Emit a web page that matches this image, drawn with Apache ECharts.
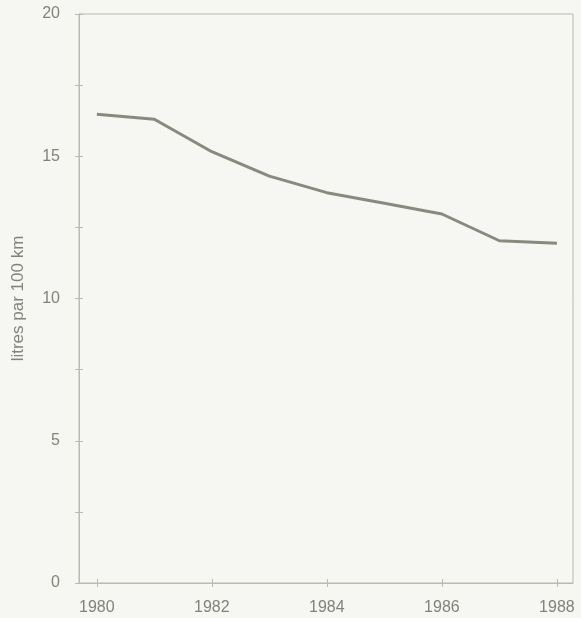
<!DOCTYPE html>
<html><head><meta charset="utf-8">
<script src="https://cdn.jsdelivr.net/npm/echarts@6/dist/echarts.min.js"></script>
<style>html,body{margin:0;padding:0;background:#f6f6f3}#c{width:581px;height:618px}</style>
</head><body><div id="c"></div>
<script>
const years = [1980, 1981, 1982, 1983, 1984, 1985, 1986, 1987, 1988];
const litres = [16.48, 16.3, 15.16, 14.3, 13.72, 13.35, 12.97, 12.03, 11.94];
const xTickLabels = [1980, 1982, 1984, 1986, 1988];
const yTickValues = [0, 5, 10, 15, 20];
const yMinorValues = [2.5, 7.5, 12.5, 17.5];
const yTitle = 'litres par 100 km';

const axisCol = '#b7bcb0';
const textCol = '#7f847a';
const font = '"Liberation Sans", Arial, sans-serif';
const chart = echarts.init(document.getElementById('c'));
const allY = yTickValues.concat(yMinorValues);
chart.setOption({
  backgroundColor: '#f6f6f3',
  animation: false,
  grid: {left: 79, right: 8, top: 14, bottom: 35, show: true, borderColor: axisCol, borderWidth: 1},
  xAxis: [{
    type: 'value', min: 1979.69, max: 1988.28,
    splitLine: {show: false},
    axisLine: {lineStyle: {color: axisCol, width: 1}},
    axisTick: {customValues: xTickLabels, length: 4, lineStyle: {color: axisCol}},
    axisLabel: {customValues: xTickLabels, color: textCol, fontFamily: font, fontSize: 16, margin: 17, formatter: v => String(v)}
  }, {
    type: 'value', min: 1979.69, max: 1988.28, position: 'bottom',
    splitLine: {show: false}, axisLine: {show: false},
    axisTick: {customValues: xTickLabels, inside: true, length: 4, lineStyle: {color: axisCol}},
    axisLabel: {show: false}
  }],
  yAxis: [{
    type: 'value', min: 0, max: 20,
    splitLine: {show: false},
    axisLine: {show: true, lineStyle: {color: axisCol, width: 1}},
    axisTick: {customValues: allY, length: 4, lineStyle: {color: axisCol}},
    axisLabel: {customValues: yTickValues, color: textCol, fontFamily: font, fontSize: 16, margin: 19},
    name: yTitle, nameLocation: 'middle', nameRotate: 90, nameGap: 52,
    nameTextStyle: {color: textCol, fontFamily: font, fontSize: 17}
  }, {
    type: 'value', min: 0, max: 20, position: 'left',
    splitLine: {show: false}, axisLine: {show: false},
    axisTick: {customValues: allY, inside: true, length: 4, lineStyle: {color: axisCol}},
    axisLabel: {show: false}
  }],
  series: [{
    type: 'line', xAxisIndex: 0, yAxisIndex: 0,
    data: years.map((y, i) => [y, litres[i]]),
    showSymbol: false, smooth: false,
    lineStyle: {color: '#858b7d', width: 3}
  }]
});
</script></body></html>
